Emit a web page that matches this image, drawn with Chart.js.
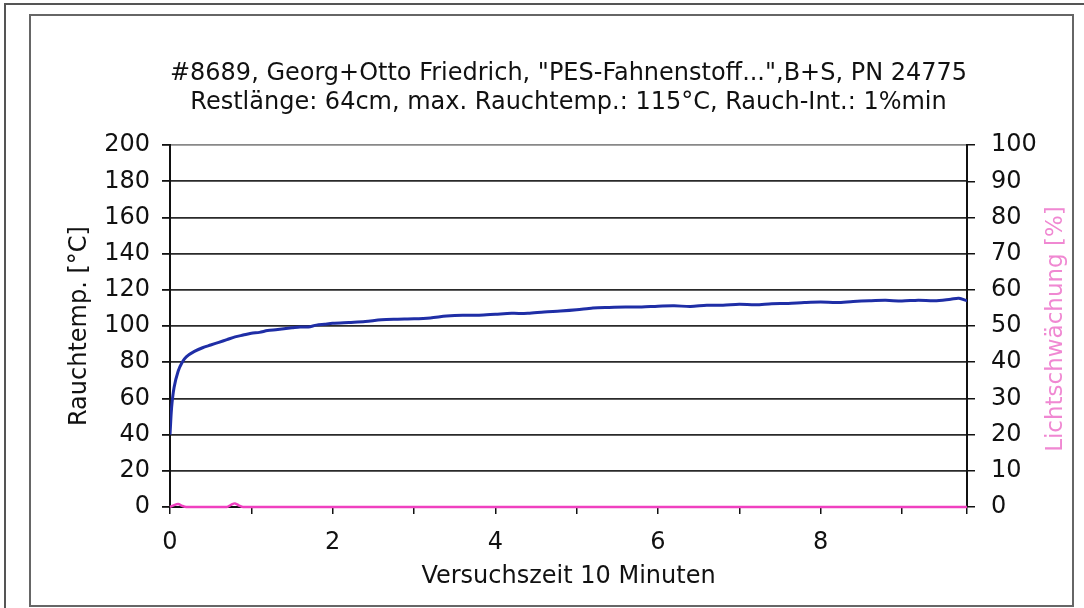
<!DOCTYPE html>
<html>
<head>
<meta charset="utf-8">
<script src="https://cdn.jsdelivr.net/npm/chart.js@4.4.1/dist/chart.umd.min.js"></script>
<style>
  body { margin: 0; background: #fff; }
  #wrap { position: relative; width: 1084px; height: 608px; overflow: hidden; }
  .outer { position: absolute; left: 4px; top: 3px; width: 1090px; height: 620px;
           border-top: 2px solid #555; border-left: 2px solid #555; }
  .inner { position: absolute; left: 29px; top: 14px; width: 1041px; height: 589px;
           border: 2px solid #666; }
  canvas { position: absolute; left: 0; top: 0; }
</style>
</head>
<body>
<div id="wrap">
  <div class="outer"></div>
  <div class="inner"></div>
  <canvas id="chart" width="1084" height="608"></canvas>
</div>
<script>
// --- DATA ---
const titleLines = [
  '#8689, Georg+Otto Friedrich, "PES-Fahnenstoff...",B+S, PN 24775',
  'Restlänge: 64cm, max. Rauchtemp.: 115°C, Rauch-Int.: 1%min'
];
const xTitle = 'Versuchszeit 10 Minuten';
const yTitle = 'Rauchtemp. [°C]';
const y1Title = 'Lichtschwächung [%]';

// Rauchtemperatur (°C), left axis
const tempTime = [0, 0.02, 0.05, 0.1, 0.15, 0.2, 0.3, 0.4, 0.5, 0.6, 0.7, 0.8, 0.9, 1.0,
  1.1, 1.2, 1.3, 1.4, 1.5, 1.6, 1.7, 1.8, 1.9, 2.0, 2.2, 2.4, 2.6, 2.8, 3.0, 3.2, 3.4,
  3.6, 3.8, 4.0, 4.2, 4.4, 4.6, 4.8, 5.0, 5.2, 5.4, 5.6, 5.8, 6.0, 6.2, 6.4, 6.6, 6.8,
  7.0, 7.2, 7.4, 7.6, 7.8, 8.0, 8.2, 8.4, 8.6, 8.8, 9.0, 9.2, 9.4, 9.6, 9.7, 9.8];
const tempValues = [40, 55, 66, 75, 80, 83, 86, 88, 89.5, 91, 92.5, 94, 95, 96,
  96.5, 97.5, 98, 98.5, 99, 99.5, 99.5, 100.5, 101, 101.5, 102, 102.5, 103.5, 103.8, 104, 104.5, 105.5,
  106, 106, 106.5, 107, 107, 107.8, 108.3, 109, 110, 110.3, 110.5, 110.5, 111, 111.2, 110.8, 111.5, 111.5,
  112, 111.7, 112.3, 112.5, 113, 113.3, 113, 113.6, 114, 114.2, 113.8, 114.3, 114, 114.8, 115.3, 114];

// Lichtschwächung (%), right axis
const lightTime = [0, 0.05, 0.1, 0.15, 0.2, 0.7, 0.75, 0.8, 0.85, 0.9, 9.8];
const lightValues = [0, 0.5, 0.8, 0.3, 0, 0, 0.6, 1.0, 0.4, 0, 0];

const xMax = 9.8;
const yMax = 200;
const y1Max = 100;

const FONT = "'DejaVu Sans', 'Liberation Sans', Arial, sans-serif";
const BLACK = '#111';

// right axis title reads bottom-to-top, so draw it ourselves
const rightTitlePlugin = {
  id: 'rightTitle',
  afterDraw(chart) {
    const ctx = chart.ctx;
    const area = chart.chartArea;
    ctx.save();
    ctx.translate(1056, (area.top + area.bottom) / 2 + 3);
    ctx.rotate(-Math.PI / 2);
    ctx.font = '23px ' + FONT;
    ctx.fillStyle = '#f088d2';
    ctx.textAlign = 'center';
    ctx.textBaseline = 'middle';
    ctx.fillText(y1Title, 0, 0);
    ctx.restore();
  }
};

new Chart(document.getElementById('chart'), {
  type: 'line',
  data: {
    datasets: [
      {
        label: 'Rauchtemp.',
        data: tempTime.map((t, i) => ({ x: t, y: tempValues[i] })),
        yAxisID: 'y',
        borderColor: '#1f2ea6',
        borderWidth: 3,
        pointRadius: 0,
        tension: 0.3,
        order: 1
      },
      {
        label: 'Lichtschwächung',
        data: lightTime.map((t, i) => ({ x: t, y: lightValues[i] })),
        yAxisID: 'y1',
        borderColor: '#f040c0',
        borderWidth: 2.5,
        pointRadius: 0,
        tension: 0.3,
        clip: false,
        order: 0
      }
    ]
  },
  options: {
    responsive: false,
    animation: false,
    layout: { padding: { left: 30, right: 12, top: 14, bottom: 16 } },
    plugins: {
      legend: { display: false },
      tooltip: { enabled: false },
      title: {
        display: true,
        text: titleLines,
        fullSize: false,
        color: BLACK,
        font: { family: FONT, size: 24, weight: 'normal', lineHeight: 1.21 },
        padding: { top: 45, bottom: 28 }
      }
    },
    scales: {
      x: {
        type: 'linear',
        min: 0,
        max: xMax,
        afterFit: s => { s.height = 85; },
        border: { color: BLACK, width: 2 },
        grid: { drawOnChartArea: false, drawTicks: true, tickLength: 7, color: BLACK, lineWidth: 1.5 },
        ticks: {
          stepSize: 1,
          autoSkip: false,
          maxRotation: 0,
          padding: 14,
          color: BLACK,
          font: { family: FONT, size: 24 },
          callback: v => (v % 2 === 0 ? v : '')
        },
        title: {
          display: true,
          text: xTitle,
          color: BLACK,
          font: { family: FONT, size: 24 },
          padding: { top: 0, bottom: 1 }
        }
      },
      y: {
        position: 'left',
        min: 0,
        max: yMax,
        afterFit: s => { s.width = 140; },
        border: { color: BLACK, width: 2 },
        grid: {
          color: c => (c.tick && c.tick.value === yMax ? '#888' : '#2a2a2a'),
          lineWidth: 1.8,
          tickLength: 8,
          tickColor: BLACK
        },
        ticks: {
          stepSize: 20,
          padding: 12,
          color: BLACK,
          font: { family: FONT, size: 24 }
        },
        title: {
          display: true,
          text: yTitle,
          color: BLACK,
          font: { family: FONT, size: 24 },
          padding: { top: 35, bottom: 0 }
        }
      },
      y1: {
        position: 'right',
        min: 0,
        max: y1Max,
        afterFit: s => { s.width = 105; },
        border: { color: BLACK, width: 2 },
        grid: { drawOnChartArea: false, tickLength: 8, color: BLACK, lineWidth: 1.5 },
        ticks: {
          stepSize: 10,
          padding: 16,
          color: BLACK,
          font: { family: FONT, size: 24 }
        }
      }
    }
  },
  plugins: [rightTitlePlugin]
});
</script>
</body>
</html>
